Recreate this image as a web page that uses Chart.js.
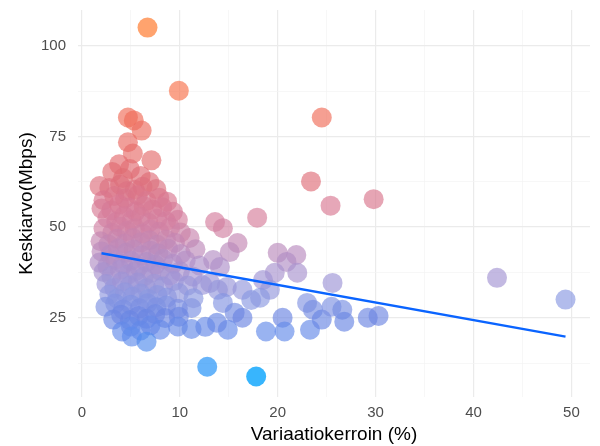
<!DOCTYPE html>
<html>
<head>
<meta charset="utf-8">
<script src="https://cdn.jsdelivr.net/npm/chart.js@4.4.1/dist/chart.umd.min.js"></script>
<style>
  html, body { margin: 0; padding: 0; background: #fff; }
  #wrap { width: 600px; height: 446px; }
</style>
</head>
<body>
<div id="wrap"><canvas id="myChart" width="600" height="446"></canvas></div>
<script>
// [variaatiokerroin %, keskiarvo Mbps] per city
const spreadCities = [
  [6.7, 105.0], [9.9, 87.6], [24.5, 80.2], [4.7, 80.2], [5.3, 79.4],
  [6.1, 76.6], [4.7, 73.4], [5.2, 70.3], [7.1, 68.4], [3.8, 67.3],
  [6.9, 62.4], [1.8, 61.3], [23.4, 62.6], [29.8, 57.7], [25.4, 55.9],
  [17.9, 52.6], [13.6, 51.4], [14.4, 49.7], [11.0, 47.0], [15.9, 45.6],
  [15.1, 43.1], [20.0, 42.9], [21.9, 42.3], [20.9, 40.4], [22.0, 37.4],
  [19.7, 37.4], [18.5, 35.4], [19.2, 32.7], [16.4, 32.7], [17.3, 29.9],
  [18.2, 30.5], [13.4, 40.9], [14.1, 39.0], [13.1, 34.6], [13.9, 32.7],
  [14.8, 33.5], [14.4, 29.1], [15.6, 26.4], [16.4, 25.0], [14.9, 21.7],
  [13.8, 23.6], [12.6, 22.5], [11.2, 21.9],
  [11.2, 27.7], [18.8, 21.2], [20.5, 25.0], [20.7, 21.2],
  [23.3, 21.7], [23.0, 29.1], [23.6, 27.2], [24.5, 24.5], [25.5, 28.0],
  [26.6, 27.2], [26.8, 23.9], [29.2, 25.0], [30.3, 25.5], [25.6, 34.6],
  [42.4, 36.0], [49.4, 30.0], [12.8, 11.5], [17.8, 8.8]
];

const denseCities = [
  [3.1, 65.2], [4.9, 66.0], [6.0, 64.1], [4.2, 63.5],
  [2.8, 60.8], [3.9, 61.7], [5.4, 60.3], [6.2, 61.1], [7.6, 60.5], [4.6, 59.9],
  [2.2, 57.4], [3.3, 58.6], [4.4, 57.9], [5.7, 58.8], [6.6, 57.2], [7.9, 58.1], [8.7, 57.0],
  [2.0, 55.1], [3.0, 54.6], [3.8, 56.2], [4.8, 55.4], [5.5, 54.3], [6.3, 55.8], [7.2, 54.8], [8.2, 55.5], [9.3, 54.2],
  [2.6, 52.5], [3.5, 51.4], [4.3, 53.0], [5.1, 51.9], [6.0, 52.8], [6.8, 51.2], [7.7, 52.3], [8.6, 51.6], [9.8, 52.0],
  [2.2, 49.6], [3.1, 48.4], [3.9, 50.1], [4.6, 48.9], [5.4, 49.7], [6.2, 48.2], [7.0, 49.3], [7.9, 48.7], [9.0, 49.9], [10.1, 48.5],
  [1.9, 46.1], [2.7, 45.2], [3.6, 46.8], [4.4, 45.5], [5.2, 47.0], [6.0, 45.8], [6.9, 46.4], [7.7, 45.1], [8.6, 46.6], [9.5, 45.7],
  [2.0, 43.3], [2.9, 42.4], [3.7, 44.1], [4.5, 42.9], [5.3, 43.8], [6.1, 42.2], [7.0, 43.5], [7.8, 42.7], [8.8, 44.0], [10.1, 42.6], [11.6, 43.9],
  [1.8, 40.2], [2.6, 39.3], [3.4, 41.0], [4.2, 39.8], [5.0, 40.7], [5.8, 39.1], [6.6, 40.4], [7.5, 39.6], [8.3, 41.2], [9.3, 39.9], [10.6, 40.8], [12.0, 39.4],
  [2.2, 37.6], [3.0, 36.5], [3.9, 38.2], [4.7, 36.9], [5.5, 37.9], [6.3, 36.3], [7.1, 37.4], [8.0, 38.0], [9.0, 36.7], [10.0, 37.8], [11.3, 36.4],
  [2.5, 34.3], [3.3, 33.2], [4.1, 35.0], [4.9, 33.8], [5.7, 34.7], [6.6, 33.1], [7.4, 34.4], [8.3, 33.6], [9.4, 35.1], [10.8, 33.9], [12.3, 34.0],
  [2.8, 31.4], [3.6, 30.3], [4.4, 32.0], [5.2, 30.8], [6.0, 31.7], [6.8, 30.2], [7.7, 31.3], [8.7, 30.6], [9.9, 31.8], [11.4, 30.4],
  [2.4, 28.0], [3.4, 28.9], [4.2, 27.3], [5.0, 28.6], [5.9, 27.6], [6.7, 29.0], [7.6, 27.9], [8.6, 28.4], [9.8, 27.5],
  [3.2, 24.5], [4.0, 25.8], [4.9, 24.3], [5.8, 25.5], [6.6, 24.7], [7.5, 26.0], [8.5, 24.9], [9.9, 25.3],
  [4.1, 21.2], [5.0, 22.6], [6.0, 21.5], [7.0, 22.9], [8.0, 21.7], [9.8, 22.6],
  [5.1, 19.8], [6.6, 18.4]
];

// linear fit, ends of the line
const trendCv = [2.0, 49.4];
const trendMbps = [42.8, 19.8];

const xTicks = [0, 5, 10, 15, 20, 25, 30, 35, 40, 45, 50];
const yTicks = [12.5, 25, 37.5, 50, 62.5, 75, 87.5, 100];

// colour ramp by mean speed (how a single dot looks on white)
const ramp = [
  [8, [41, 182, 255]], [11, [100, 180, 250]], [20, [152, 180, 242]],
  [25, [158, 175, 236]], [30, [178, 188, 236]], [36, [195, 185, 226]],
  [42, [208, 180, 214]], [50, [226, 172, 194]], [57, [230, 166, 182]],
  [63, [234, 160, 166]], [75, [242, 158, 152]], [88, [250, 162, 136]],
  [105, [255, 163, 110]]
];

function pointColour(v) {
  let rgb = ramp[ramp.length - 1][1];
  if (v <= ramp[0][0]) rgb = ramp[0][1];
  for (let i = 0; i < ramp.length - 1; i++) {
    const [v0, c0] = ramp[i], [v1, c1] = ramp[i + 1];
    if (v >= v0 && v <= v1) {
      const t = (v - v0) / (v1 - v0);
      rgb = c0.map((c, k) => c + (c1[k] - c) * t);
      break;
    }
  }
  const a = Math.max(0.65, 1 - Math.min(...rgb) / 255 + 0.03);
  const fill = rgb.map(c => Math.max(0, Math.min(255, Math.round((c - 255 * (1 - a)) / a))));
  return `rgba(${fill[0]},${fill[1]},${fill[2]},${a.toFixed(3)})`;
}

const cities = spreadCities.concat(denseCities);
const font = 'Liberation Sans, Arial, sans-serif';

const ctx = document.getElementById('myChart').getContext('2d');
const myChart = new Chart(ctx, {
  type: 'scatter',
  data: {
    datasets: [
      {
        type: 'line',
        data: trendCv.map((x, i) => ({ x: x, y: trendMbps[i] })),
        borderColor: '#0A64FF',
        borderWidth: 2.5,
        pointRadius: 0,
        fill: false
      },
      {
        data: cities.map(([x, y]) => ({ x: x, y: y })),
        backgroundColor: c => pointColour(c.raw.y),
        borderWidth: 0,
        pointRadius: 10,
        pointHoverRadius: 10
      }
    ]
  },
  options: {
    responsive: false,
    animation: false,
    layout: { padding: { top: 9, right: 10, left: 0, bottom: 0 } },
    plugins: { legend: { display: false }, tooltip: { enabled: false } },
    scales: {
      x: {
        type: 'linear',
        min: -0.4,
        max: 51.9,
        afterBuildTicks: s => { s.ticks = xTicks.map(v => ({ value: v })); },
        afterFit: s => { s.height = 49; s.paddingLeft = 0; s.paddingRight = 0; },
        border: { display: false },
        grid: {
          drawTicks: false,
          color: c => (c.tick && c.tick.value % 10 === 0) ? '#EBEBEB' : '#F4F4F4',
          lineWidth: c => (c.tick && c.tick.value % 10 === 0) ? 1.2 : 0.7
        },
        ticks: {
          autoSkip: false,
          maxRotation: 0,
          padding: 7,
          color: '#4D4D4D',
          font: { family: font, size: 15 },
          callback: v => v % 10 === 0 ? v : ''
        },
        title: {
          display: true,
          text: 'Variaatiokerroin (%)',
          color: '#000',
          font: { family: font, size: 19 },
          padding: { top: 0, bottom: 0 }
        }
      },
      y: {
        type: 'linear',
        min: 3.15,
        max: 109.85,
        afterBuildTicks: s => { s.ticks = yTicks.map(v => ({ value: v })); },
        afterFit: s => { s.width = 78; s.paddingTop = 0; s.paddingBottom = 0; },
        border: { display: false },
        grid: {
          drawTicks: false,
          color: c => (c.tick && c.tick.value % 25 === 0) ? '#EBEBEB' : '#F4F4F4',
          lineWidth: c => (c.tick && c.tick.value % 25 === 0) ? 1.2 : 0.7
        },
        ticks: {
          autoSkip: false,
          padding: 12,
          color: '#4D4D4D',
          font: { family: font, size: 15 },
          callback: v => v % 25 === 0 ? v : ''
        },
        title: {
          display: true,
          text: 'Keskiarvo(Mbps)',
          color: '#000',
          font: { family: font, size: 19 },
          padding: { top: 15, bottom: 0 }
        }
      }
    }
  }
});
</script>
</body>
</html>
